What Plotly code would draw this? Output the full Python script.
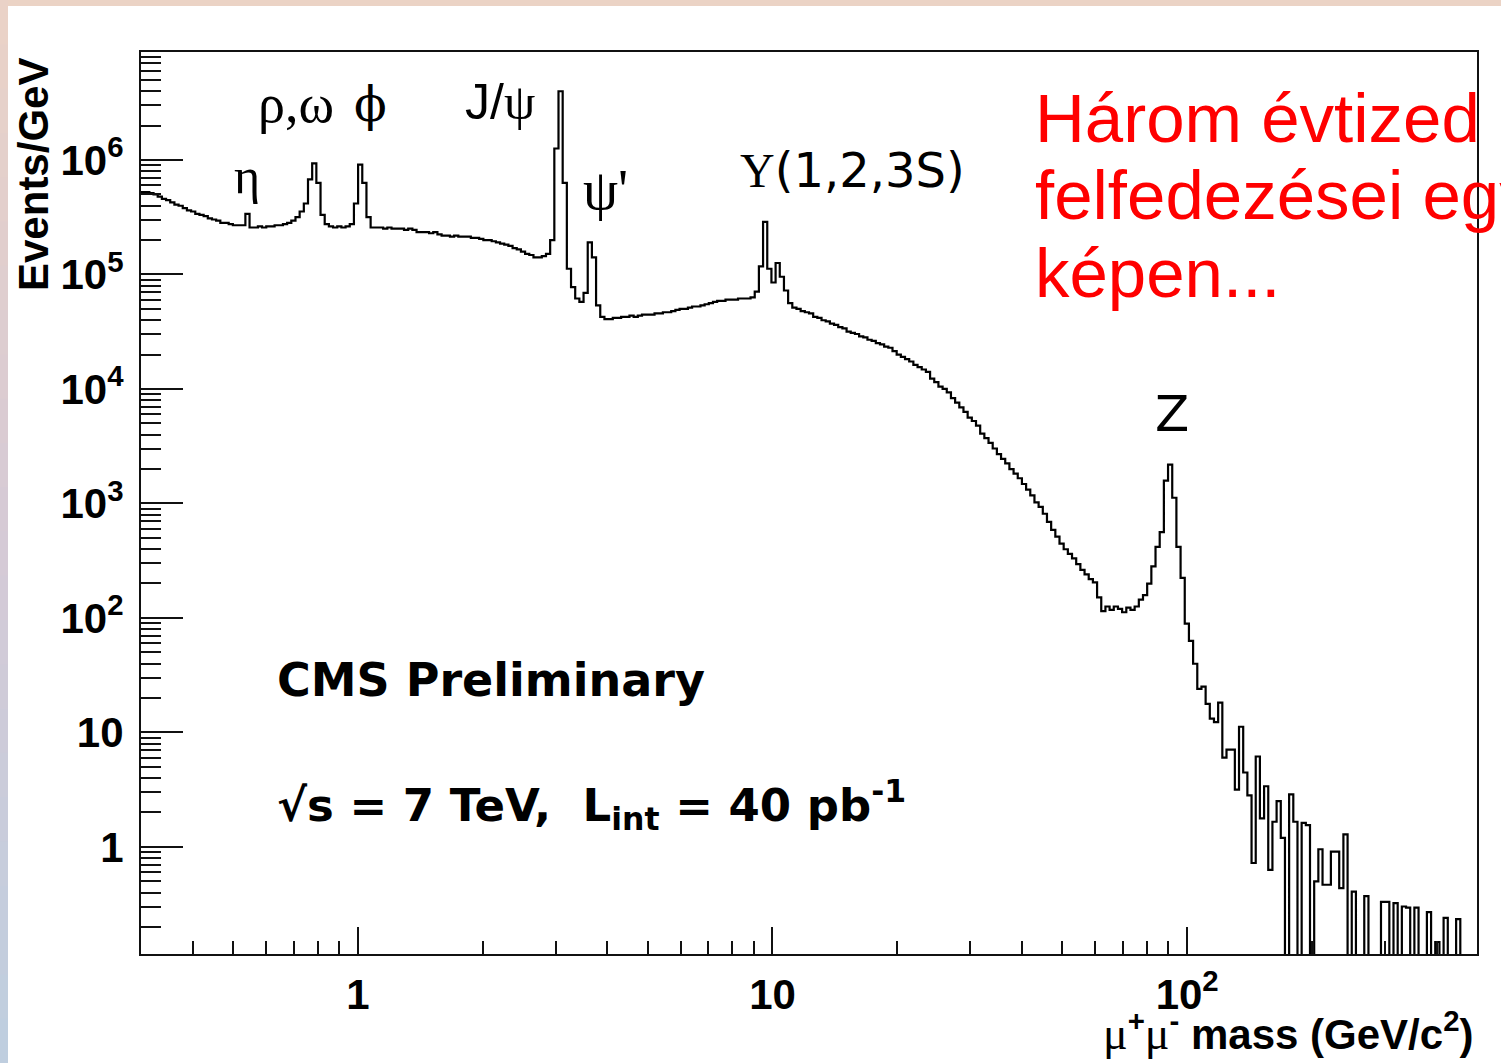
import numpy as np
import plotly.graph_objects as go

# ---------------------------------------------------------------------------
# Dimuon invariant-mass spectrum, 320 log-uniform bins from 0.3 to 500 GeV/c^2
# ---------------------------------------------------------------------------
mass_min = 0.3
mass_max = 500.0
n_bins = 320

# log10(Events/GeV) for each bin, low mass to high mass; None = empty bin
log10_events = [
    # 0.30 - 0.37
    5.72, 5.72, 5.71, 5.70, 5.68, 5.66, 5.65, 5.63, 5.61, 5.60,
    5.58, 5.56, 5.55, 5.53, 5.52, 5.51, 5.49, 5.48, 5.47, 5.45,
    # eta, rho/omega
    5.45, 5.44, 5.43, 5.43, 5.43, 5.53, 5.41, 5.41, 5.42, 5.41,
    5.42, 5.42, 5.43, 5.43, 5.44, 5.45, 5.47, 5.50, 5.55, 5.62,
    5.83, 5.97, 5.80, 5.52, 5.44, 5.42, 5.41, 5.42, 5.41, 5.42,
    # phi
    5.44, 5.62, 5.96, 5.80, 5.50, 5.41, 5.41, 5.41, 5.40, 5.41,
    5.40, 5.40, 5.40, 5.39, 5.40, 5.39, 5.37, 5.37, 5.37, 5.36,
    5.37, 5.35, 5.34, 5.34, 5.33, 5.34, 5.33, 5.33, 5.33, 5.32,
    5.32, 5.31, 5.30, 5.30, 5.29, 5.28, 5.27, 5.26, 5.25, 5.23,
    # J/psi, psi(2S)
    5.22, 5.20, 5.18, 5.17, 5.15, 5.15, 5.16, 5.18, 5.30, 6.10,
    6.60, 5.80, 5.05, 4.89, 4.79, 4.76, 4.84, 5.28, 5.15, 4.73,
    4.63, 4.61, 4.61, 4.62, 4.62, 4.63, 4.63, 4.64, 4.63, 4.64,
    4.65, 4.65, 4.65, 4.66, 4.66, 4.67, 4.67, 4.68, 4.69, 4.70,
    4.70, 4.71, 4.72, 4.72, 4.73, 4.74, 4.75, 4.76, 4.77, 4.77,
    # Upsilon(1S, 2S, 3S)
    4.78, 4.78, 4.78, 4.79, 4.79, 4.79, 4.80, 4.85, 5.07, 5.46,
    5.05, 4.93, 5.10, 4.98, 4.86, 4.75, 4.71, 4.70, 4.68, 4.67,
    # Drell-Yan continuum
    4.66, 4.63, 4.62, 4.60, 4.59, 4.57, 4.56, 4.54, 4.53, 4.50,
    4.49, 4.48, 4.46, 4.45, 4.43, 4.42, 4.40, 4.39, 4.37, 4.36,
    4.33, 4.30, 4.28, 4.26, 4.24, 4.21, 4.19, 4.17, 4.15, 4.09,
    4.06, 4.02, 4.00, 3.97, 3.92, 3.88, 3.84, 3.80, 3.75, 3.72,
    3.68, 3.61, 3.57, 3.53, 3.48, 3.43, 3.39, 3.35, 3.30, 3.26,
    3.22, 3.17, 3.12, 3.07, 3.01, 2.97, 2.91, 2.84, 2.77, 2.71,
    2.65, 2.60, 2.56, 2.52, 2.47, 2.42, 2.38, 2.34, 2.31, 2.18,
    2.06, 2.10, 2.07, 2.10, 2.08, 2.05, 2.09, 2.07, 2.10, 2.16,
    # Z
    2.20, 2.30, 2.45, 2.62, 2.75, 3.20, 3.34, 3.05, 2.62, 2.35,
    1.95, 1.80, 1.60, 1.38, 1.40, 1.25, 1.12, 1.09, 1.26, 0.78,
    # high-mass tail
    0.85, 0.85, 0.50, 1.05, 0.65, 0.45, -0.14, 0.79, 0.25, 0.53,
    -0.20, 0.22, 0.40, 0.08, None, 0.46, 0.22, None, 0.21, 0.19,
    None, -0.30, -0.02, -0.33, -0.33, -0.04, -0.04, -0.36, 0.11, None,
    -0.39, None, None, -0.43, None, None, None, -0.48, -0.48, None,
    -0.49, None, -0.52, -0.53, None, -0.53, None, None, -0.57, None,
    -0.83, None, -0.62, None, None, -0.63, None, None, None, None,
]

# Resonance labels
peak_labels = ["η", "ρ,ω", "ϕ", "J/ψ", "ψ'", "Υ(1,2,3S)", "Z"]

# Axis ticks
x_tick_vals = [1, 10, 100]
x_tick_text = ["1", "10", "10<sup>2</sup>"]
y_tick_vals = [1, 10, 1e2, 1e3, 1e4, 1e5, 1e6]
y_tick_text = ["1", "10", "10<sup>2</sup>", "10<sup>3</sup>", "10<sup>4</sup>",
               "10<sup>5</sup>", "10<sup>6</sup>"]

# ---------------------------------------------------------------------------
W, H = 1501, 1063
ML, MR, MT, MB = 141, 24, 52, 109
PW, PH = W - ML - MR, H - MT - MB


def paper_x(px):
    return (px - ML) / PW


def paper_y(py):
    return 1 - (py - MT) / PH


edges = np.logspace(np.log10(mass_min), np.log10(mass_max), n_bins + 1)
floor = 1e-3  # empty bins drop below the visible range
counts = [10 ** v if v is not None else floor for v in log10_events]
x_step = list(edges)
y_step = counts + [counts[-1]]

fig = go.Figure()
fig.add_trace(go.Scatter(
    x=x_step, y=y_step, mode="lines",
    line=dict(color="black", width=2.2, shape="hv"),
    hoverinfo="skip", showlegend=False,
))

x_minor = [k * 10 ** e for e in range(-1, 3) for k in range(2, 10)
           if mass_min <= k * 10 ** e <= mass_max]
y_lo, y_hi = -0.935, 6.943
y_minor = [k * 10 ** e for e in range(-1, 7) for k in range(2, 10)
           if 10 ** y_lo <= k * 10 ** e <= 10 ** y_hi]

tick_font = dict(family="Liberation Sans", size=42, color="black", weight="bold")

fig.update_xaxes(
    type="log", range=[np.log10(mass_min), np.log10(mass_max)],
    showgrid=False, zeroline=False,
    showline=True, linecolor="#111", linewidth=2.2, mirror=True,
    ticks="inside", ticklen=27, tickwidth=2, tickcolor="#111",
    tickmode="array", tickvals=x_tick_vals, ticktext=x_tick_text,
    tickfont=tick_font, ticklabelstandoff=2,
    minor=dict(ticks="inside", ticklen=13, tickwidth=2, tickcolor="#111",
               tickmode="array", tickvals=x_minor, showgrid=False),
)
fig.update_yaxes(
    type="log", range=[y_lo, y_hi],
    showgrid=False, zeroline=False,
    showline=True, linecolor="#111", linewidth=2.2, mirror=True,
    ticks="inside", ticklen=42, tickwidth=2, tickcolor="#111",
    tickmode="array", tickvals=y_tick_vals, ticktext=y_tick_text,
    tickfont=tick_font, ticklabelstandoff=7,
    minor=dict(ticks="inside", ticklen=20, tickwidth=2, tickcolor="#111",
               tickmode="array", tickvals=y_minor, showgrid=False),
)

# slide border: thin band along the top and a tinted band down the left side
shapes = [dict(type="rect", xref="paper", yref="paper",
               x0=paper_x(0), x1=paper_x(W), y0=paper_y(0), y1=paper_y(6),
               fillcolor="rgb(235,211,197)", line=dict(width=0), layer="below")]
band_top = np.array([235, 211, 199])
band_mid = np.array([214, 202, 214])
band_bot = np.array([190, 207, 224])
n_seg = 24
for i in range(n_seg):
    t = (i + 0.5) / n_seg
    if t < 0.5:
        c = band_top + (band_mid - band_top) * (t / 0.5)
    else:
        c = band_mid + (band_bot - band_mid) * ((t - 0.5) / 0.5)
    y0 = H * i / n_seg
    y1 = H * (i + 1) / n_seg
    shapes.append(dict(type="rect", xref="paper", yref="paper",
                       x0=paper_x(0), x1=paper_x(8),
                       y0=paper_y(y0), y1=paper_y(y1 + 1),
                       fillcolor="rgb(%d,%d,%d)" % tuple(c.astype(int)),
                       line=dict(width=0), layer="below"))

serif = "'DejaVu Serif', 'Liberation Serif', serif"
lserif = "'Liberation Serif', 'DejaVu Serif', serif"
sans = "'Liberation Sans', Arial, sans-serif"
dsans = "'DejaVu Sans', sans-serif"


def ann(text, px, py, size, family=sans, weight="normal", color="black",
        xanchor="center", yanchor="middle", angle=0):
    return dict(text=text, xref="paper", yref="paper",
                x=paper_x(px), y=paper_y(py), showarrow=False,
                xanchor=xanchor, yanchor=yanchor, textangle=angle,
                font=dict(family=family, size=size, color=color, weight=weight))


mu = "<span style=\"font-family:'Liberation Serif';font-weight:normal;font-size:46px\">μ</span>"

annotations = [
    # resonance labels
    ann(peak_labels[0], 247, 176, 50, family=lserif),
    ann(peak_labels[1], 296, 104, 54, family=lserif),
    ann(peak_labels[2], 370, 104, 48, family=serif),
    ann("J/<span style=\"font-family:'Liberation Serif'\">ψ</span>", 500, 102, 50),
    ann(peak_labels[4], 605, 190, 56, family=lserif),
    ann("<span style=\"font-family:'Liberation Serif'\">Υ</span>(1,2,3S)",
        852, 170, 48, family=dsans),
    ann(peak_labels[6], 1172, 414, 50, family=dsans),
    # experiment / run conditions
    ann("CMS Preliminary", 275, 680, 46, family=dsans,
        weight="bold", xanchor="left"),
    ann("√s = 7 TeV,  L<sub>int</sub> = 40 pb<sup>-1</sup>", 275, 805, 45,
        family=dsans, weight="bold", xanchor="left"),
    # axis titles
    ann(mu + "<sup>+</sup>" + mu + "<sup>-</sup> mass (GeV/c<sup>2</sup>)",
        1475, 1031, 42, weight="bold", xanchor="right"),
    ann("Events/GeV", 33, 175, 42, weight="bold", angle=-90),
    # slide caption
    ann("Három évtized", 1033, 119, 69, color="#ff0000", xanchor="left"),
    ann("felfedezései egy", 1033, 195, 69, color="#ff0000", xanchor="left"),
    ann("képen...", 1033, 273, 69, color="#ff0000", xanchor="left"),
]

fig.update_layout(
    width=W, height=H,
    margin=dict(l=ML, r=MR, t=MT, b=MB, pad=0),
    paper_bgcolor="white", plot_bgcolor="white",
    shapes=shapes, annotations=annotations,
    showlegend=False,
)

fig.write_html("out.html")
